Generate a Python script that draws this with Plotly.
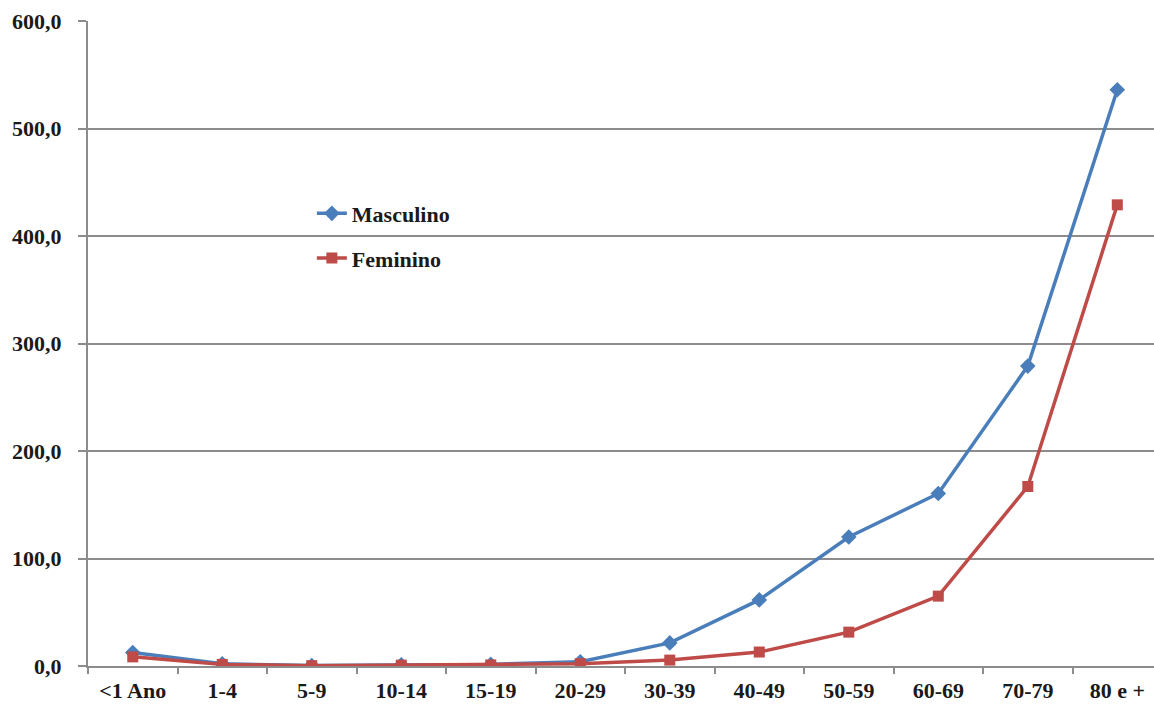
import plotly.graph_objects as go

# Faixas etárias e taxas por sexo
faixas = ["<1 Ano", "1-4", "5-9", "10-14", "15-19", "20-29",
          "30-39", "40-49", "50-59", "60-69", "70-79", "80 e +"]
masculino = [12.5, 2.0, 0.5, 1.2, 1.5, 4.0, 21.5, 61.5, 120.0, 160.5, 279.0, 536.0]
feminino = [8.5, 1.5, 0.3, 0.8, 1.0, 2.2, 5.5, 13.0, 31.5, 65.0, 167.0, 429.0]

AZUL = "#4A7EBB"
VERMELHO = "#BE4B48"
CINZA = "#8C8C8C"
fonte = dict(family="Liberation Serif", size=22, color="#1a1a1a", weight="bold")

fig = go.Figure()
fig.add_trace(go.Scatter(
    x=faixas, y=masculino, name="Masculino", mode="lines+markers",
    legendgroup="m",
    line=dict(color=AZUL, width=3.5),
    marker=dict(symbol="diamond", size=12, color=AZUL),
))
fig.add_trace(go.Scatter(
    x=faixas, y=feminino, name="Feminino", mode="lines+markers",
    legendgroup="f",
    line=dict(color=VERMELHO, width=3.5),
    marker=dict(symbol="square", size=11, color=VERMELHO),
))

fig.update_layout(
    width=1154, height=712,
    margin=dict(l=88, r=0, t=21, b=46),
    paper_bgcolor="white", plot_bgcolor="white",
    separators=", ",
    font=fonte,
    showlegend=True,
    legend=dict(
        x=0.21, y=0.734, xanchor="left", yanchor="top",
        bgcolor="rgba(0,0,0,0)", font=fonte,
        traceorder="grouped", tracegroupgap=13, itemwidth=30,
    ),
    xaxis=dict(
        type="category", range=[-0.5, 11.41],
        showline=True, linecolor=CINZA, linewidth=2,
        ticks="outside", tickson="boundaries", ticklen=6,
        tickcolor=CINZA, tickwidth=1.5,
        showgrid=False, tickfont=fonte, ticklabelstandoff=4,
    ),
    yaxis=dict(
        range=[0, 600], dtick=100, tickformat=".1f",
        showline=True, linecolor=CINZA, linewidth=2,
        ticks="outside", ticklen=8, tickcolor=CINZA, tickwidth=2,
        showgrid=True, gridcolor=CINZA, gridwidth=2,
        zeroline=False, tickfont=fonte, ticklabelstandoff=12,
    ),
)

fig.write_html("out.html")
